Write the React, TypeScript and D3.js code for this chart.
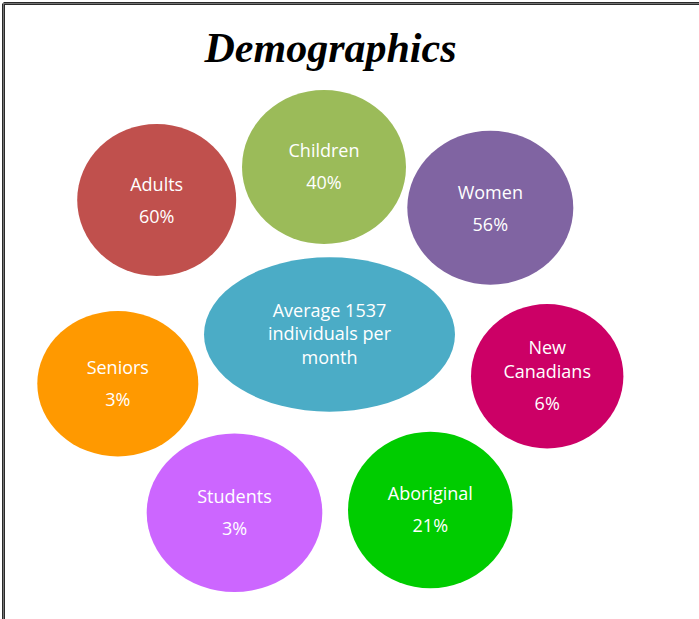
import React from "react";
import * as d3 from "d3";

// ---- data ----
const title = "Demographics";
const categories = ["Adults", "Children", "Women", "New Canadians", "Seniors", "Students", "Aboriginal"];
const values = [60, 40, 56, 6, 3, 3, 21];
const centerLines = ["Average 1537", "individuals per", "month"];
const colors = ["#C0504D", "#9BBB59", "#8064A2", "#CC0066", "#FF9900", "#CC66FF", "#00CC00"];
const centerColor = "#4BACC6";

// ---- layout (ellipse geometry, px) ----
const layout = [
  { cx: 156.7, cy: 200, rx: 79.5, ry: 76, t0: 191 },
  { cx: 324, cy: 167, rx: 82, ry: 77, t0: 157.3 },
  { cx: 490.3, cy: 207.7, rx: 83, ry: 77, t0: 198.7 },
  { cx: 547.2, cy: 376.2, rx: 76.2, ry: 72.2, t0: 354.3 },
  { cx: 117.8, cy: 383.7, rx: 80.5, ry: 72.7, t0: 374 },
  { cx: 234.5, cy: 512.7, rx: 87.8, ry: 79.3, t0: 503.3 },
  { cx: 430.3, cy: 510, rx: 82.3, ry: 78.3, t0: 500 },
];
const center = { cx: 329.5, cy: 334.5, rx: 125.5, ry: 77.2, t0: 316.7 };

const W = 699;
const H = 619;
const FONT = "'Open Sans', 'Noto Sans', sans-serif";

export default function App() {
  const fmt = d3.format("d");
  return (
    <svg
      width={W}
      height={H}
      style={{ position: "absolute", left: 0, top: 0, background: "#fff" }}
    >
      <rect x={0} y={0} width={W} height={H} fill="#fff" />
      {/* frame: top and left border */}
      <line x1={3.5} y1={3.5} x2={W} y2={3.5} stroke="#2a2a2a" strokeWidth={3} />
      <line x1={3.5} y1={3.5} x2={3.5} y2={H} stroke="#2a2a2a" strokeWidth={3} />
      <line x1={3.5} y1={3.5} x2={W} y2={3.5} stroke="#888" strokeWidth={0.8} />
      <line x1={3.5} y1={3.5} x2={3.5} y2={H} stroke="#888" strokeWidth={0.8} />

      <text
        x={330.5}
        y={62}
        textAnchor="middle"
        fontFamily="'Liberation Serif', 'Times New Roman', serif"
        fontWeight="bold"
        fontStyle="italic"
        fontSize={42}
        fill="#000"
      >
        {title}
      </text>

      {categories.map((c, i) => {
        const L = layout[i];
        const nameLines = c === "New Canadians" ? ["New", "Canadians"] : [c];
        const valueY = L.t0 + (nameLines.length - 1) * 24 + 32;
        return (
          <g key={c}>
            <ellipse cx={L.cx} cy={L.cy} rx={L.rx} ry={L.ry} fill={colors[i]} />
            {nameLines.map((ln, j) => (
              <text
                key={j}
                x={L.cx}
                y={L.t0 + j * 24}
                textAnchor="middle"
                fontFamily={FONT}
                fontSize={18}
                fill="#fff"
              >
                {ln}
              </text>
            ))}
            <text
              x={L.cx}
              y={valueY}
              textAnchor="middle"
              fontFamily={FONT}
              fontSize={18}
              fill="#fff"
            >
              {fmt(values[i]) + "%"}
            </text>
          </g>
        );
      })}

      <ellipse cx={center.cx} cy={center.cy} rx={center.rx} ry={center.ry} fill={centerColor} />
      {centerLines.map((ln, j) => (
        <text
          key={j}
          x={center.cx}
          y={center.t0 + j * 23.5}
          textAnchor="middle"
          fontFamily={FONT}
          fontSize={18}
          fill="#fff"
        >
          {ln}
        </text>
      ))}
    </svg>
  );
}
